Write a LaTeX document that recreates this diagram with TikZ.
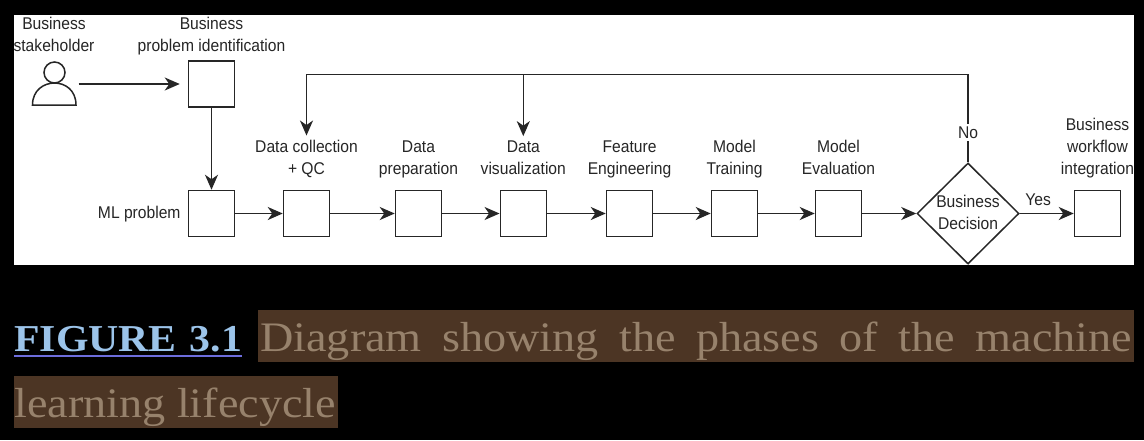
\documentclass[tikz,border=0pt]{standalone}
\usepackage{fontspec}
\setmainfont[FakeStretch=0.92]{Liberation Sans}
\newfontfamily\capfont[FakeStretch=1.1]{Liberation Serif}
\usetikzlibrary{arrows.meta,positioning,shapes.geometric}

\begin{document}
\begin{tikzpicture}[x=1pt,y=-1pt]
        \colorlet{ink}{black!85}
        \definecolor{capbg}{HTML}{4C3524}
        \definecolor{captext}{HTML}{97826C}
        \definecolor{figblue}{HTML}{9CC4EA}
        \definecolor{figline}{HTML}{6D6DDD}
        \tikzset{
          stepbox/.style={draw=ink,line width=1.5pt,fill=white,minimum size=46pt,inner sep=0pt},
          steplabel/.style={text=ink,font=\fontsize{17}{22}\selectfont,align=center,inner sep=0pt,text depth=0pt},
          flow/.style={draw=ink,line width=1.5pt,-{Stealth[length=15pt,width=13pt,inset=4.5pt]}},
          plainline/.style={draw=ink,line width=1.5pt},
          caption/.style={inner sep=0pt,anchor=base west,font=\capfont\fontsize{42}{50}\selectfont}
        }

        \fill[black] (0,0) rectangle (1144,440);
        \fill[white] (13.5,15) rectangle (1134,265);

        % person on the left
        \node[minimum width=48pt,minimum height=44pt,inner sep=0pt] (stakeholder) at (54.5,84) {};
        \draw[plainline] (54.5,72.5) circle (10.5pt);
        \draw[plainline] (32.5,105) .. controls (32.5,90) and (44,83) .. (54.5,83)
          .. controls (65,83) and (76,90) .. (76,105) -- cycle;
        \node[steplabel,anchor=south] (stakeholder-label) at (54,52) {Business\\stakeholder};

        \node[stepbox] (problem) at (211.5,84) {};
        \node[steplabel,above=8.5pt of problem] (problem-label) {Business\\problem identification};

        \node[stepbox] (mlbox) at (211.5,213.5) {};
        \node[steplabel,left=7pt of mlbox,yshift=1pt] (mlbox-label) {ML problem};

        \foreach \name/\xpos/\lbl in {collect/306.5/{Data collection\\+ QC},
          prepare/418.5/{Data\\preparation},
          visual/523.3/{Data\\visualization},
          feature/629.5/{Feature\\Engineering},
          training/734.5/{Model\\Training},
          evaluate/838.5/{Model\\Evaluation}}
        {
          \node[stepbox] (\name) at (\xpos,213.5) {};
          \node[steplabel,above=15.5pt of \name] (\name-label) {\lbl};
        }

        \node[stepbox] (integrate) at (1097.5,213.5) {};
        \node[steplabel,above=15.5pt of integrate] (integrate-label) {Business\\workflow\\integration};

        \node[diamond,aspect=1,draw=ink,line width=1.5pt,fill=white,inner sep=0pt,
          minimum width=102pt,minimum height=101pt,
          label={[steplabel,text depth=,yshift=1pt]center:{Business\\Decision}}] (decision) at (968,213.5) {};

        \coordinate (turn) at (968,74.5);

        \draw[flow,shorten >=8pt] (stakeholder.east) -- (problem.west);
        \draw[flow] (problem) -- (mlbox);
        \foreach \from/\to in {mlbox/collect,collect/prepare,prepare/visual,visual/feature,
          feature/training,training/evaluate,evaluate/decision}
        {
          \draw[flow] (\from) -- (\to);
        }
        \draw[flow] (decision.east) -- node[pos=.34,above=7pt,steplabel] (yes) {Yes} (integrate.west);

        % feedback from the decision
        \draw[flow,shorten >=4pt] (decision.north) -- node[pos=.34,fill=white,steplabel,inner sep=3pt] (no) {No} (turn) -| (collect-label.north);
        \draw[flow,shorten >=4pt] (turn -| visual-label.north) -- (visual-label.north);

        % caption under the picture
        \fill[capbg] (258,310) rectangle (1134,362);
        \fill[capbg] (14,376) rectangle (338,428);
        \node[caption,text=figblue,font=\capfont\bfseries\fontsize{38}{50}\selectfont] (figtitle) at (14,351)
          {\makebox[228pt][s]{FIGURE 3.1}};
        \draw[figline,line width=1.5pt] (14,356) -- (242,356);
        \node[caption,text=captext] (capline-a) at (260,351) {\makebox[872pt][s]{Diagram showing the phases of the machine}};
        \node[caption,text=captext] (capline-b) at (14,417) {learning lifecycle};
      \end{tikzpicture}
\end{document}
